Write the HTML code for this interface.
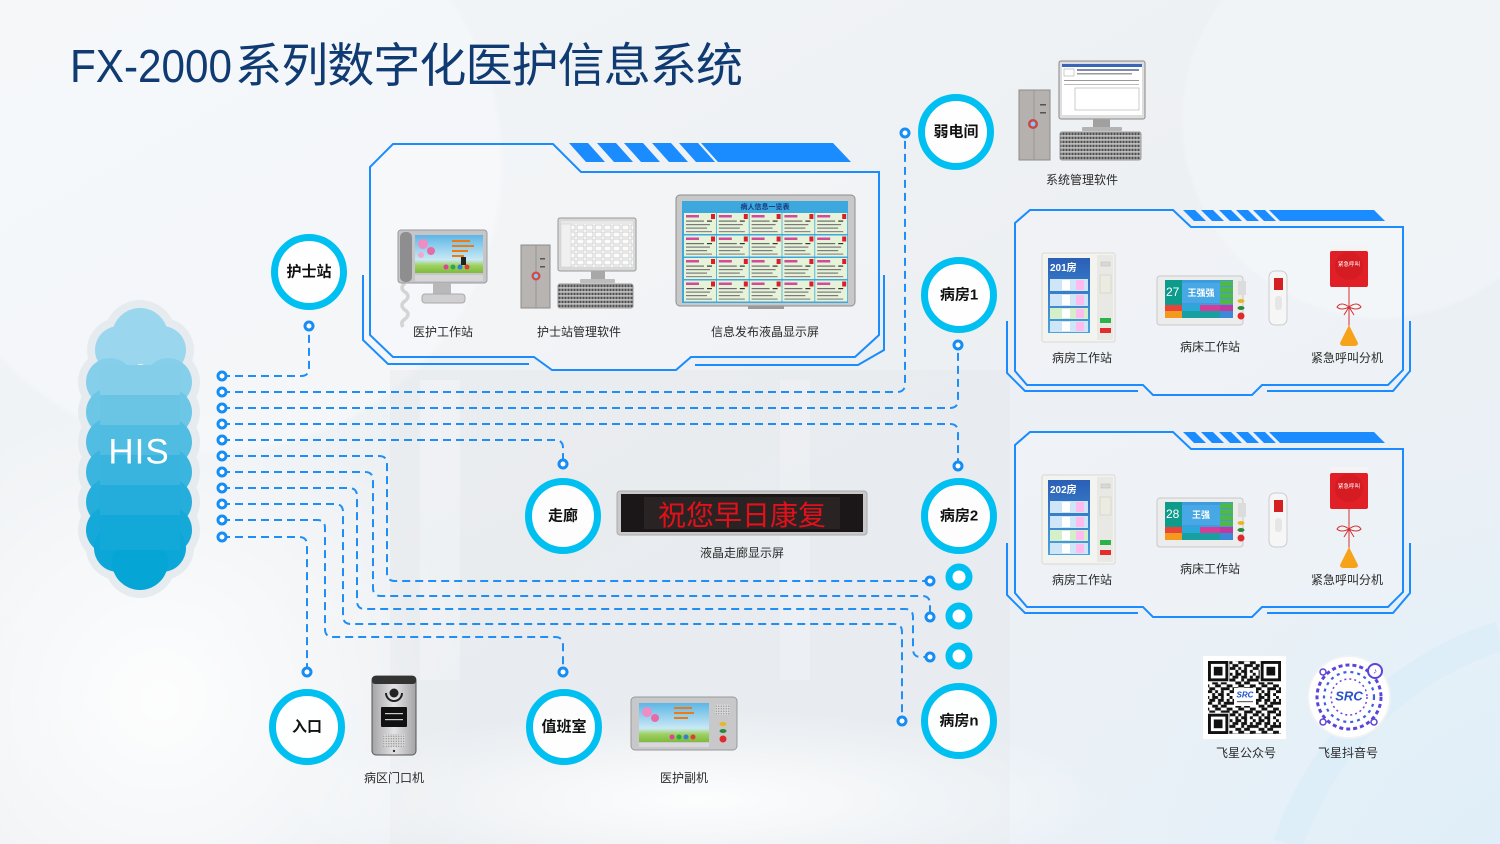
<!DOCTYPE html>
<html><head><meta charset="utf-8">
<style>
html,body{margin:0;padding:0;width:1500px;height:844px;overflow:hidden;}
body{background:#eef2f5;position:relative;}
svg{display:block;position:absolute;left:0;top:0;}
text{font-family:"Liberation Sans","Noto Sans CJK SC",sans-serif;}
.lbl{font-size:12px;fill:#2a2a2a;text-anchor:middle;dominant-baseline:central;}
.rl{font-size:15px;font-weight:bold;fill:#111;text-anchor:middle;dominant-baseline:central;}
.dl{fill:none;stroke:#1f8ef5;stroke-width:2;stroke-dasharray:8 5;}
.fr{fill:#ffffff;fill-opacity:0.18;stroke:#1a8cff;stroke-width:2;}
.br{fill:none;stroke:#1a8cff;stroke-width:2;}
.st{fill:#1a8cff;}
.ring{fill:#ffffff;fill-opacity:0.9;stroke:#00c0f2;stroke-width:7;}
.sring{fill:#ffffff;stroke:#00c0f2;stroke-width:7;}
.pd{fill:#ffffff;stroke:#168cf5;stroke-width:3;}
</style></head><body>
<svg width="1500" height="844" viewBox="0 0 1500 844" xmlns="http://www.w3.org/2000/svg">
<defs>
 <clipPath id="frame"><rect width="1500" height="844"/></clipPath>
 <linearGradient id="bg" x1="0" y1="0" x2="1" y2="1">
  <stop offset="0" stop-color="#f3f6f9"/>
  <stop offset="0.5" stop-color="#edf0f3"/>
  <stop offset="1" stop-color="#e8f1f8"/>
 </linearGradient>
 <radialGradient id="g1" gradientUnits="userSpaceOnUse" cx="215" cy="165" r="290">
  <stop offset="0" stop-color="#f7f9fb" stop-opacity="0.6"/>
  <stop offset="0.98" stop-color="#f7f9fb" stop-opacity="0.6"/>
  <stop offset="1" stop-color="#f7f9fb" stop-opacity="0"/>
 </radialGradient>
 <radialGradient id="g2" gradientUnits="userSpaceOnUse" cx="160" cy="700" r="310">
  <stop offset="0" stop-color="#ffffff" stop-opacity="0.9"/>
  <stop offset="1" stop-color="#ffffff" stop-opacity="0"/>
 </radialGradient>
 <radialGradient id="g3" gradientUnits="userSpaceOnUse" cx="0" cy="0" r="1" gradientTransform="translate(700,800) scale(420,90)">
  <stop offset="0" stop-color="#ffffff" stop-opacity="0.9"/>
  <stop offset="1" stop-color="#ffffff" stop-opacity="0"/>
 </radialGradient>
 <radialGradient id="g4" gradientUnits="userSpaceOnUse" cx="1560" cy="930" r="520">
  <stop offset="0" stop-color="#d9ecf8" stop-opacity="0.9"/>
  <stop offset="1" stop-color="#e3f0f9" stop-opacity="0"/>
 </radialGradient>
 <radialGradient id="g5" gradientUnits="userSpaceOnUse" cx="1380" cy="120" r="200">
  <stop offset="0" stop-color="#f3f7fa" stop-opacity="0.5"/>
  <stop offset="0.98" stop-color="#f3f7fa" stop-opacity="0.5"/>
  <stop offset="1" stop-color="#f3f7fa" stop-opacity="0"/>
 </radialGradient>
 <linearGradient id="sky" x1="0" y1="0" x2="0" y2="1">
  <stop offset="0" stop-color="#5db6e5"/>
  <stop offset="0.65" stop-color="#c9e9f5"/>
  <stop offset="0.8" stop-color="#9fd060"/>
  <stop offset="1" stop-color="#7dbb3e"/>
 </linearGradient>
 <linearGradient id="silver" x1="0" y1="0" x2="1" y2="0">
  <stop offset="0" stop-color="#a4a4a6"/>
  <stop offset="0.5" stop-color="#e4e4e6"/>
  <stop offset="1" stop-color="#a4a4a6"/>
 </linearGradient>
 <linearGradient id="scr" x1="0" y1="0" x2="0" y2="1">
  <stop offset="0" stop-color="#2a5fb6"/>
  <stop offset="1" stop-color="#4aa3e0"/>
 </linearGradient>
 <pattern id="keys" width="3" height="4" patternUnits="userSpaceOnUse">
  <rect width="3" height="4" fill="#cfcfcf"/>
  <rect x="0.4" y="0.6" width="2.2" height="2.6" fill="#4f4f4f"/>
 </pattern>
 <pattern id="grill" width="2.5" height="2.5" patternUnits="userSpaceOnUse">
  <rect width="2.5" height="2.5" fill="#d8d8d8"/>
  <circle cx="1.25" cy="1.25" r="0.6" fill="#888"/>
 </pattern>
 <pattern id="mgrid" width="9" height="7" patternUnits="userSpaceOnUse">
  <rect width="9" height="7" fill="#fbfbfb"/>
  <rect x="1" y="1" width="7" height="5" fill="none" stroke="#b8b8b8" stroke-width="0.6"/>
 </pattern>
 <pattern id="qr" width="23.2" height="23.2" patternUnits="userSpaceOnUse">
  <rect width="23.2" height="23.2" fill="#fff"/>
  <g fill="#111">
   <rect x="0" y="0" width="2.9" height="2.9"/><rect x="5.8" y="0" width="5.8" height="2.9"/><rect x="14.5" y="0" width="2.9" height="2.9"/>
   <rect x="2.9" y="2.9" width="5.8" height="2.9"/><rect x="11.6" y="2.9" width="5.8" height="2.9"/><rect x="20.3" y="2.9" width="2.9" height="2.9"/>
   <rect x="0" y="5.8" width="5.8" height="2.9"/><rect x="11.6" y="5.8" width="2.9" height="2.9"/><rect x="17.4" y="5.8" width="5.8" height="2.9"/>
   <rect x="5.8" y="8.7" width="5.8" height="2.9"/><rect x="14.5" y="8.7" width="5.8" height="2.9"/>
   <rect x="0" y="11.6" width="2.9" height="2.9"/><rect x="8.7" y="11.6" width="5.8" height="2.9"/><rect x="20.3" y="11.6" width="2.9" height="2.9"/>
   <rect x="2.9" y="14.5" width="5.8" height="2.9"/><rect x="14.5" y="14.5" width="8.7" height="2.9"/>
   <rect x="0" y="17.4" width="5.8" height="2.9"/><rect x="8.7" y="17.4" width="2.9" height="2.9"/><rect x="14.5" y="17.4" width="2.9" height="2.9"/>
   <rect x="5.8" y="20.3" width="2.9" height="2.9"/><rect x="11.6" y="20.3" width="5.8" height="2.9"/><rect x="20.3" y="20.3" width="2.9" height="2.9"/>
  </g>
 </pattern>
 <g id="cell">
  <rect width="32" height="21" fill="#e6f3d8"/>
  <rect x="2" y="2" width="13" height="2.5" fill="#d24a9a"/>
  <rect x="27" y="1" width="4" height="5" fill="#e01c24"/>
  <rect x="2" y="7.5" width="18" height="1.2" fill="#6f6f6f"/>
  <rect x="23" y="7.5" width="5" height="1.2" fill="#333"/>
  <rect x="2" y="11" width="24" height="1.2" fill="#7a7a7a"/>
  <rect x="2" y="14.5" width="21" height="1.2" fill="#7a7a7a"/>
  <rect x="2" y="18" width="26" height="1.2" fill="#8a8a8a"/>
 </g>
 <g id="finder">
  <rect x="-1" y="-1" width="22.3" height="22.3" fill="#fff"/>
  <rect width="20.3" height="20.3" fill="#111"/>
  <rect x="2.9" y="2.9" width="14.5" height="14.5" fill="#fff"/>
  <rect x="5.8" y="5.8" width="8.7" height="8.7" fill="#111"/>
 </g>
</defs>

<!-- background (all within frame) -->
<rect width="1500" height="844" fill="url(#bg)"/>
<rect width="1500" height="844" fill="url(#g1)"/>
<rect width="1500" height="844" fill="url(#g2)"/>
<rect x="390" y="370" width="620" height="474" fill="#e3e6e9" opacity="0.35"/>
<rect x="420" y="380" width="40" height="300" fill="#ffffff" opacity="0.25"/>
<rect x="780" y="380" width="30" height="300" fill="#ffffff" opacity="0.2"/>
<rect width="1500" height="844" fill="url(#g3)"/>
<rect width="1500" height="844" fill="url(#g4)"/>
<g clip-path="url(#frame)">
 <path d="M1288,844 A330,330 0 0 1 1500,636" fill="none" stroke="#dcedf8" stroke-width="30" opacity="0.7"/>
</g>
<rect width="1500" height="844" fill="url(#g5)"/>

<!-- title -->
<text x="70" y="82" font-size="46" fill="#0f3a72" textLength="162" lengthAdjust="spacingAndGlyphs">FX-2000</text>
<text x="235" y="82" font-size="47" fill="#0f3a72" textLength="508" lengthAdjust="spacing" style="font-family:'Noto Sans CJK SC',sans-serif;">系列数字化医护信息系统</text>

<!-- HIS cloud -->
<g fill="#e6ebef">
 <circle cx="140" cy="336" r="36"/><circle cx="119" cy="350" r="32"/><circle cx="162" cy="350" r="32"/>
 <circle cx="110" cy="382" r="32"/><circle cx="168" cy="382" r="32"/>
 <circle cx="110" cy="412" r="32"/><circle cx="168" cy="412" r="32"/>
 <circle cx="110" cy="442" r="32"/><circle cx="168" cy="442" r="32"/>
 <circle cx="110" cy="472" r="32"/><circle cx="168" cy="472" r="32"/>
 <circle cx="110" cy="502" r="32"/><circle cx="168" cy="502" r="32"/>
 <circle cx="110" cy="530" r="32"/><circle cx="168" cy="530" r="32"/>
 <circle cx="140" cy="562" r="36"/><circle cx="118" cy="548" r="32"/><circle cx="162" cy="548" r="32"/>
</g>
<g fill="#9ad7ee">
 <circle cx="140" cy="336" r="28"/><circle cx="119" cy="350" r="24"/><circle cx="162" cy="350" r="24"/>
 <circle cx="110" cy="382" r="24" fill="#86cfea"/><circle cx="168" cy="382" r="24" fill="#86cfea"/>
</g>
<g>
 <circle cx="110" cy="412" r="24" fill="#6cc6e6"/><circle cx="168" cy="412" r="24" fill="#6cc6e6"/>
 <circle cx="110" cy="442" r="24" fill="#52bde3"/><circle cx="168" cy="442" r="24" fill="#52bde3"/>
 <circle cx="110" cy="472" r="24" fill="#3ab5df"/><circle cx="168" cy="472" r="24" fill="#3ab5df"/>
 <circle cx="110" cy="502" r="24" fill="#25aedc"/><circle cx="168" cy="502" r="24" fill="#25aedc"/>
 <circle cx="110" cy="530" r="24" fill="#14a9d9"/><circle cx="168" cy="530" r="24" fill="#14a9d9"/>
 <circle cx="118" cy="548" r="24" fill="#0ca7d8"/><circle cx="162" cy="548" r="24" fill="#0ca7d8"/>
 <circle cx="140" cy="562" r="28" fill="#05a5d6"/>
 <rect x="100" y="365" width="80" height="30" fill="#84cee9"/>
 <rect x="100" y="395" width="80" height="30" fill="#6ac5e5"/>
 <rect x="100" y="425" width="80" height="30" fill="#50bce2"/>
 <rect x="100" y="455" width="80" height="30" fill="#39b4de"/>
 <rect x="100" y="485" width="80" height="30" fill="#24adda"/>
 <rect x="100" y="515" width="80" height="35" fill="#12a8d8"/>
</g>
<text x="139" y="452" font-size="35" fill="#ffffff" text-anchor="middle" dominant-baseline="central" letter-spacing="1">HIS</text>

<!-- frames -->
<path class="fr" d="M370,335 V167 L393,144 H553 L581,172 H879 V335 L855,357 H691 L676,370 H552 L534,357 H393 Z"/>
<path class="br" d="M363,275 V340 L388,364 H529"/>
<path class="br" d="M884,275 V350 L858,365 H695"/>
<g class="st">
 <polygon points="569,143 588,143 605,162 586,162"/>
 <polygon points="597,143 616,143 633,162 614,162"/>
 <polygon points="624,143 643,143 660,162 641,162"/>
 <polygon points="652,143 671,143 688,162 669,162"/>
 <polygon points="679,143 698,143 715,162 696,162"/>
 <polygon points="701,143 833,143 851,162 718,162"/>
</g>

<path class="fr" d="M1015,371 V223 L1030,210 H1173 L1191,227 H1403 V370 L1388,385 H1262 L1252,395 H1153 L1143,385 H1027 Z"/>
<path class="br" d="M1007,321 V373 L1025,391 H1138"/>
<path class="br" d="M1410,321 V371 L1393,391 H1267"/>
<g class="st">
 <polygon points="1183,210 1195,210 1206,221 1194,221"/>
 <polygon points="1201,210 1213,210 1224,221 1212,221"/>
 <polygon points="1219,210 1231,210 1242,221 1230,221"/>
 <polygon points="1236,210 1248,210 1259,221 1247,221"/>
 <polygon points="1253,210 1265,210 1276,221 1264,221"/>
 <polygon points="1269,210 1374,210 1385,221 1280,221"/>
</g>

<path class="fr" d="M1015,593 V445 L1030,432 H1173 L1191,449 H1403 V592 L1388,607 H1262 L1252,617 H1153 L1143,607 H1027 Z"/>
<path class="br" d="M1007,543 V595 L1025,613 H1138"/>
<path class="br" d="M1410,543 V593 L1393,613 H1267"/>
<g class="st">
 <polygon points="1183,432 1195,432 1206,443 1194,443"/>
 <polygon points="1201,432 1213,432 1224,443 1212,443"/>
 <polygon points="1219,432 1231,432 1242,443 1230,443"/>
 <polygon points="1236,432 1248,432 1259,443 1247,443"/>
 <polygon points="1253,432 1265,432 1276,443 1264,443"/>
 <polygon points="1269,432 1374,432 1385,443 1280,443"/>
</g>

<!-- dashed connectors -->
<path class="dl" d="M222,376 H301 Q309,376 309,368 V326"/>
<path class="dl" d="M222,392 H897 Q905,392 905,384 V133"/>
<path class="dl" d="M222,408 H950 Q958,408 958,400 V345"/>
<path class="dl" d="M222,424 H950 Q958,424 958,432 V466"/>
<path class="dl" d="M222,440 H555 Q563,440 563,448 V464"/>
<path class="dl" d="M222,456 H379 Q387,456 387,464 V573 Q387,581 395,581 H930"/>
<path class="dl" d="M222,472 H365 Q373,472 373,480 V588 Q373,596 381,596 H922 Q930,596 930,604 V617"/>
<path class="dl" d="M222,488 H349 Q357,488 357,496 V601 Q357,609 365,609 H905 Q913,609 913,617 V649 Q913,657 921,657 H930"/>
<path class="dl" d="M222,504 H335 Q343,504 343,512 V616 Q343,624 351,624 H894 Q902,624 902,632 V721"/>
<path class="dl" d="M222,520 H317 Q325,520 325,528 V629 Q325,637 333,637 H555 Q563,637 563,645 V672"/>
<path class="dl" d="M222,537 H299 Q307,537 307,545 V672"/>

<g>
 <circle class="pd" cx="222" cy="376" r="4"/><circle class="pd" cx="222" cy="392" r="4"/>
 <circle class="pd" cx="222" cy="408" r="4"/><circle class="pd" cx="222" cy="424" r="4"/>
 <circle class="pd" cx="222" cy="440" r="4"/><circle class="pd" cx="222" cy="456" r="4"/>
 <circle class="pd" cx="222" cy="472" r="4"/><circle class="pd" cx="222" cy="488" r="4"/>
 <circle class="pd" cx="222" cy="504" r="4"/><circle class="pd" cx="222" cy="520" r="4"/>
 <circle class="pd" cx="222" cy="537" r="4"/>
 <circle class="pd" cx="309" cy="326" r="4"/><circle class="pd" cx="905" cy="133" r="4"/>
 <circle class="pd" cx="958" cy="345" r="4"/><circle class="pd" cx="958" cy="466" r="4"/>
 <circle class="pd" cx="563" cy="464" r="4"/><circle class="pd" cx="930" cy="581" r="4"/>
 <circle class="pd" cx="930" cy="617" r="4"/><circle class="pd" cx="930" cy="657" r="4"/>
 <circle class="pd" cx="902" cy="721" r="4"/><circle class="pd" cx="563" cy="672" r="4"/>
 <circle class="pd" cx="307" cy="672" r="4"/>
</g>

<!-- rings -->
<circle class="ring" cx="309" cy="272" r="34.5"/><text class="rl" x="309" y="272">护士站</text>
<circle class="ring" cx="956" cy="132" r="34.5"/><text class="rl" x="956" y="132">弱电间</text>
<circle class="ring" cx="959" cy="295" r="34.5"/><text class="rl" x="959" y="295">病房1</text>
<circle class="ring" cx="959" cy="516" r="34.5"/><text class="rl" x="959" y="516">病房2</text>
<circle class="ring" cx="563" cy="516" r="34.5"/><text class="rl" x="563" y="516">走廊</text>
<circle class="ring" cx="959" cy="721" r="34.5"/><text class="rl" x="959" y="721">病房n</text>
<circle class="ring" cx="307" cy="727" r="34.5"/><text class="rl" x="307" y="727">入口</text>
<circle class="ring" cx="564" cy="727" r="34.5"/><text class="rl" x="564" y="727">值班室</text>
<circle class="sring" cx="959" cy="577" r="10"/>
<circle class="sring" cx="959" cy="616" r="10"/>
<circle class="sring" cx="959" cy="656" r="10"/>

<!-- 医护工作站 -->
<g>
 <path d="M405,283 q-6,5 0,9 q6,4 0,9 q-6,4 0,9 q6,4 0,9 q-5,3 -2,8" stroke="#d4d4d4" stroke-width="3.5" fill="none"/>
 <rect x="398" y="230" width="89" height="53" rx="3" fill="#c6c6c8" stroke="#9a9a9c"/>
 <rect x="415" y="235" width="68" height="38" fill="url(#sky)"/>
 <circle cx="423" cy="244" r="5" fill="#ee8cc4"/><circle cx="431" cy="251" r="4" fill="#e86aa8"/><circle cx="421" cy="255" r="3" fill="#f5a6d0"/>
 <rect x="452" y="240" width="18" height="2" fill="#f07a12"/><rect x="452" y="245" width="22" height="2" fill="#f07a12"/>
 <rect x="452" y="250" width="16" height="2" fill="#f07a12"/><rect x="452" y="255" width="12" height="2" fill="#f07a12"/>
 <rect x="461" y="257" width="5" height="8" fill="#222"/>
 <circle cx="446" cy="267" r="2.5" fill="#e0409a"/><circle cx="453" cy="267" r="2.5" fill="#2aa84a"/><circle cx="460" cy="267" r="2.5" fill="#3a7ad8"/><circle cx="467" cy="267" r="2.5" fill="#e03a3a"/>
 <rect x="400" y="232" width="12" height="50" rx="5" fill="#8e8e90"/>
 <rect x="415" y="275" width="68" height="6" fill="#d6d6d8"/>
 <rect x="433" y="283" width="18" height="12" fill="#b8b8ba"/>
 <rect x="422" y="294" width="43" height="9" rx="3" fill="#d0d0d2" stroke="#aaa"/>
</g>
<text class="lbl" x="443" y="332">医护工作站</text>

<!-- 护士站管理软件 -->
<g>
 <rect x="521" y="245" width="29" height="63" fill="#b7b4b2" stroke="#8e8b89"/>
 <line x1="536" y1="245" x2="536" y2="308" stroke="#9a9795"/>
 <rect x="540" y="258" width="5" height="1.5" fill="#555"/><rect x="540" y="266" width="5" height="1.5" fill="#555"/>
 <circle cx="536" cy="276" r="4.5" fill="#d84848"/><circle cx="536" cy="276" r="2.2" fill="#7ccff0"/>
 <rect x="558" y="218" width="78" height="53" rx="2" fill="#d9d9d9" stroke="#999"/>
 <rect x="561" y="221" width="72" height="46" fill="url(#mgrid)"/>
 <rect x="561" y="221" width="72" height="3" fill="#e8e8e8"/>
 <rect x="561" y="224" width="10" height="43" fill="#f0f0f0" stroke="#ccc" stroke-width="0.5"/>
 <rect x="591" y="271" width="14" height="8" fill="#a8a8a8"/>
 <rect x="580" y="279" width="35" height="4" rx="1" fill="#bdbdbd"/>
 <rect x="558" y="284" width="75" height="24" rx="2" fill="url(#keys)" stroke="#999"/>
</g>
<text class="lbl" x="579" y="332">护士站管理软件</text>

<!-- 信息发布液晶显示屏 -->
<g>
 <rect x="676" y="195" width="179" height="111" rx="4" fill="#c8c8c8" stroke="#8d8d8d"/>
 <rect x="682" y="201" width="166" height="102" fill="#3ca8de"/>
 <text x="765" y="207.5" font-size="7" font-weight="bold" fill="#1b3a7a" text-anchor="middle" dominant-baseline="central">病人信息一览表</text>
 <use href="#cell" x="684" y="213"/><use href="#cell" x="716.8" y="213"/><use href="#cell" x="749.6" y="213"/><use href="#cell" x="782.4" y="213"/><use href="#cell" x="815.2" y="213"/>
 <use href="#cell" x="684" y="235.5"/><use href="#cell" x="716.8" y="235.5"/><use href="#cell" x="749.6" y="235.5"/><use href="#cell" x="782.4" y="235.5"/><use href="#cell" x="815.2" y="235.5"/>
 <use href="#cell" x="684" y="258"/><use href="#cell" x="716.8" y="258"/><use href="#cell" x="749.6" y="258"/><use href="#cell" x="782.4" y="258"/><use href="#cell" x="815.2" y="258"/>
 <use href="#cell" x="684" y="280.5"/><use href="#cell" x="716.8" y="280.5"/><use href="#cell" x="749.6" y="280.5"/><use href="#cell" x="782.4" y="280.5"/><use href="#cell" x="815.2" y="280.5"/>
 <rect x="748" y="306" width="36" height="3" fill="#9a9a9a"/>
</g>
<text class="lbl" x="765" y="332">信息发布液晶显示屏</text>

<!-- 系统管理软件 -->
<g>
 <rect x="1019" y="90" width="31" height="70" fill="#b4b1af" stroke="#8e8b89"/>
 <line x1="1034" y1="90" x2="1034" y2="160" stroke="#9a9795"/>
 <rect x="1040" y="104" width="6" height="1.5" fill="#555"/><rect x="1040" y="112" width="6" height="1.5" fill="#555"/>
 <circle cx="1033" cy="124" r="5" fill="#d04444"/><circle cx="1033" cy="124" r="2.5" fill="#7ccff0"/>
 <rect x="1059" y="61" width="86" height="58" rx="2" fill="#dedede" stroke="#888"/>
 <rect x="1062" y="64" width="80" height="51" fill="#ffffff"/>
 <rect x="1062" y="64" width="80" height="3" fill="#3a66b8"/>
 <rect x="1064" y="69" width="10" height="7" fill="none" stroke="#aaa" stroke-width="0.6"/>
 <rect x="1077" y="69" width="62" height="2" fill="#7a8ab0"/><rect x="1077" y="73" width="55" height="1.5" fill="#999"/>
 <rect x="1064" y="80" width="75" height="1" fill="#999"/><rect x="1064" y="84" width="75" height="1" fill="#bbb"/>
 <rect x="1075" y="88" width="64" height="22" fill="none" stroke="#aaa" stroke-width="0.6"/>
 <rect x="1093" y="119" width="17" height="8" fill="#a0a0a0"/>
 <rect x="1082" y="127" width="40" height="4" rx="1" fill="#b3b3b3"/>
 <rect x="1060" y="132" width="81" height="28" rx="2" fill="url(#keys)" stroke="#999"/>
</g>
<text class="lbl" x="1082" y="180">系统管理软件</text>

<!-- Room 1 devices -->
<g>
 <rect x="1042" y="253" width="73" height="89" rx="2" fill="#f3f3f0" stroke="#d8d8d4"/>
 <rect x="1048" y="258" width="42" height="75" fill="url(#scr)"/>
 <text x="1050" y="271" font-size="10" font-weight="bold" fill="#fff">201房</text>
 <rect x="1050" y="279" width="38" height="12" fill="#cfe6f8"/><rect x="1050" y="294" width="38" height="12" fill="#cfe6f8"/>
 <rect x="1050" y="308" width="38" height="11" fill="#d5efc9"/><rect x="1050" y="321" width="38" height="11" fill="#cfe6f8"/>
 <rect x="1062" y="280" width="8" height="10" fill="#fff"/><rect x="1076" y="280" width="8" height="10" fill="#fbe"/>
 <rect x="1062" y="295" width="8" height="10" fill="#fff"/><rect x="1076" y="295" width="8" height="10" fill="#fbe"/>
 <rect x="1062" y="309" width="8" height="9" fill="#fff"/><rect x="1076" y="309" width="8" height="9" fill="#fbe"/>
 <rect x="1062" y="322" width="8" height="9" fill="#fff"/><rect x="1076" y="322" width="8" height="9" fill="#fbe"/>
 <rect x="1097" y="255" width="16" height="85" fill="#e8e8e4"/>
 <rect x="1101" y="262" width="9" height="4" fill="#d8d8d4" stroke="#bbb" stroke-width="0.5"/>
 <rect x="1100" y="275" width="11" height="18" fill="#ebebdf" stroke="#ccc" stroke-width="0.6"/>
 <rect x="1100" y="318" width="11" height="5" fill="#2bb34a"/>
 <rect x="1100" y="328" width="11" height="5" fill="#e32c2c"/>
</g>
<g>
 <rect x="1157" y="276" width="86" height="49" rx="3" fill="#ececec" stroke="#c8c8c8"/>
 <rect x="1165" y="280" width="68" height="38" fill="#3d9be0"/>
 <rect x="1165" y="280" width="17" height="25" fill="#0d9c8c"/>
 <text x="1166" y="296" font-size="12" fill="#fff">27</text>
 <rect x="1182" y="283" width="38" height="20" fill="#48a8e6"/>
 <text x="1201" y="293" font-size="9" font-weight="bold" fill="#fff" text-anchor="middle" dominant-baseline="central">王强强</text>
 <rect x="1220" y="281" width="13" height="5" fill="#4fb848"/><rect x="1220" y="287" width="13" height="5" fill="#4fb848"/>
 <rect x="1220" y="293" width="13" height="5" fill="#4fb848"/><rect x="1220" y="299" width="13" height="5" fill="#4fb848"/>
 <rect x="1165" y="305" width="17" height="6" fill="#e8443a"/><rect x="1182" y="305" width="18" height="6" fill="#2aa8d8"/>
 <rect x="1200" y="305" width="20" height="6" fill="#d63c98"/><rect x="1220" y="305" width="13" height="6" fill="#c03a9a"/>
 <rect x="1165" y="311" width="17" height="7" fill="#f39a1e"/><rect x="1182" y="311" width="38" height="7" fill="#18a0a0"/>
 <rect x="1220" y="311" width="13" height="7" fill="#3a8ad8"/>
 <rect x="1238" y="281" width="8" height="14" fill="#dcdcdc"/>
 <ellipse cx="1241" cy="301" rx="3.5" ry="2" fill="#e8b820"/>
 <ellipse cx="1241" cy="308" rx="3.5" ry="2" fill="#2a8a3a"/>
 <circle cx="1241" cy="316" r="3.5" fill="#e02a2a"/>
 <rect x="1269" y="271" width="18" height="54" rx="6" fill="#f6f6f6" stroke="#ccc"/>
 <rect x="1274" y="278" width="9" height="12" fill="#d42020"/>
 <rect x="1275" y="296" width="7" height="14" rx="3" fill="#e6e6e6"/>
</g>
<g>
 <rect x="1330" y="245" width="38" height="8" fill="#f4f4f4"/>
 <rect x="1330" y="251" width="38" height="36" rx="2" fill="#e11f26"/>
 <circle cx="1349" cy="266" r="14" fill="#d41c22"/>
 <text x="1349" y="265" font-size="5.5" fill="#fff" text-anchor="middle" dominant-baseline="central">紧急呼叫</text>
 <line x1="1349" y1="287" x2="1349" y2="327" stroke="#d43030" stroke-width="1"/>
 <path d="M1349,307 q-8,-6 -12,0 q4,4 12,0 q8,-6 12,0 q-4,4 -12,0 l-5,8 M1349,307 l5,8" stroke="#d43030" stroke-width="1" fill="none"/>
 <path d="M1349,325 L1358,343 Q1358,346 1354,346 L1344,346 Q1340,346 1340,343 Z" fill="#f7a21b"/>
</g>
<text class="lbl" x="1082" y="358">病房工作站</text>
<text class="lbl" x="1210" y="347">病床工作站</text>
<text class="lbl" x="1347" y="358">紧急呼叫分机</text>

<!-- Room 2 devices -->
<g transform="translate(0,222)">
 <rect x="1042" y="253" width="73" height="89" rx="2" fill="#f3f3f0" stroke="#d8d8d4"/>
 <rect x="1048" y="258" width="42" height="75" fill="url(#scr)"/>
 <text x="1050" y="271" font-size="10" font-weight="bold" fill="#fff">202房</text>
 <rect x="1050" y="279" width="38" height="12" fill="#cfe6f8"/><rect x="1050" y="294" width="38" height="12" fill="#cfe6f8"/>
 <rect x="1050" y="308" width="38" height="11" fill="#d5efc9"/><rect x="1050" y="321" width="38" height="11" fill="#cfe6f8"/>
 <rect x="1062" y="280" width="8" height="10" fill="#fff"/><rect x="1076" y="280" width="8" height="10" fill="#fbe"/>
 <rect x="1062" y="295" width="8" height="10" fill="#fff"/><rect x="1076" y="295" width="8" height="10" fill="#fbe"/>
 <rect x="1062" y="309" width="8" height="9" fill="#fff"/><rect x="1076" y="309" width="8" height="9" fill="#fbe"/>
 <rect x="1062" y="322" width="8" height="9" fill="#fff"/><rect x="1076" y="322" width="8" height="9" fill="#fbe"/>
 <rect x="1097" y="255" width="16" height="85" fill="#e8e8e4"/>
 <rect x="1101" y="262" width="9" height="4" fill="#d8d8d4" stroke="#bbb" stroke-width="0.5"/>
 <rect x="1100" y="275" width="11" height="18" fill="#ebebdf" stroke="#ccc" stroke-width="0.6"/>
 <rect x="1100" y="318" width="11" height="5" fill="#2bb34a"/>
 <rect x="1100" y="328" width="11" height="5" fill="#e32c2c"/>

 <rect x="1157" y="276" width="86" height="49" rx="3" fill="#ececec" stroke="#c8c8c8"/>
 <rect x="1165" y="280" width="68" height="38" fill="#3d9be0"/>
 <rect x="1165" y="280" width="17" height="25" fill="#0d9c8c"/>
 <text x="1166" y="296" font-size="12" fill="#fff">28</text>
 <rect x="1182" y="283" width="38" height="20" fill="#48a8e6"/>
 <text x="1201" y="293" font-size="9" font-weight="bold" fill="#fff" text-anchor="middle" dominant-baseline="central">王强</text>
 <rect x="1220" y="281" width="13" height="5" fill="#4fb848"/><rect x="1220" y="287" width="13" height="5" fill="#4fb848"/>
 <rect x="1220" y="293" width="13" height="5" fill="#4fb848"/><rect x="1220" y="299" width="13" height="5" fill="#4fb848"/>
 <rect x="1165" y="305" width="17" height="6" fill="#e8443a"/><rect x="1182" y="305" width="18" height="6" fill="#2aa8d8"/>
 <rect x="1200" y="305" width="20" height="6" fill="#d63c98"/><rect x="1220" y="305" width="13" height="6" fill="#c03a9a"/>
 <rect x="1165" y="311" width="17" height="7" fill="#f39a1e"/><rect x="1182" y="311" width="38" height="7" fill="#18a0a0"/>
 <rect x="1220" y="311" width="13" height="7" fill="#3a8ad8"/>
 <rect x="1238" y="281" width="8" height="14" fill="#dcdcdc"/>
 <ellipse cx="1241" cy="301" rx="3.5" ry="2" fill="#e8b820"/>
 <ellipse cx="1241" cy="308" rx="3.5" ry="2" fill="#2a8a3a"/>
 <circle cx="1241" cy="316" r="3.5" fill="#e02a2a"/>
 <rect x="1269" y="271" width="18" height="54" rx="6" fill="#f6f6f6" stroke="#ccc"/>
 <rect x="1274" y="278" width="9" height="12" fill="#d42020"/>
 <rect x="1275" y="296" width="7" height="14" rx="3" fill="#e6e6e6"/>

 <rect x="1330" y="245" width="38" height="8" fill="#f4f4f4"/>
 <rect x="1330" y="251" width="38" height="36" rx="2" fill="#e11f26"/>
 <circle cx="1349" cy="266" r="14" fill="#d41c22"/>
 <text x="1349" y="265" font-size="5.5" fill="#fff" text-anchor="middle" dominant-baseline="central">紧急呼叫</text>
 <line x1="1349" y1="287" x2="1349" y2="327" stroke="#d43030" stroke-width="1"/>
 <path d="M1349,307 q-8,-6 -12,0 q4,4 12,0 q8,-6 12,0 q-4,4 -12,0 l-5,8 M1349,307 l5,8" stroke="#d43030" stroke-width="1" fill="none"/>
 <path d="M1349,325 L1358,343 Q1358,346 1354,346 L1344,346 Q1340,346 1340,343 Z" fill="#f7a21b"/>
</g>
<text class="lbl" x="1082" y="580">病房工作站</text>
<text class="lbl" x="1210" y="569">病床工作站</text>
<text class="lbl" x="1347" y="580">紧急呼叫分机</text>

<!-- LED corridor display -->
<g>
 <rect x="617" y="491" width="250" height="44" rx="3" fill="#c9c9c9" stroke="#aaa"/>
 <rect x="621" y="494" width="242" height="38" fill="#1b1617"/>
 <rect x="644" y="497" width="196" height="32" fill="#2a2324"/>
 <text x="742" y="514" font-size="28" fill="#e3101a" text-anchor="middle" dominant-baseline="central" style="font-family:'Noto Sans CJK SC',sans-serif;">祝您早日康复</text>
</g>
<text class="lbl" x="742" y="553">液晶走廊显示屏</text>

<!-- 病区门口机 -->
<g>
 <rect x="372" y="676" width="44" height="79" rx="4" fill="url(#silver)" stroke="#555"/>
 <rect x="372" y="676" width="44" height="8" rx="3" fill="#333"/>
 <path d="M386,693 a8,8 0 0 0 16,0" stroke="#222" stroke-width="2" fill="none"/>
 <circle cx="394" cy="693" r="4.5" fill="#222"/>
 <rect x="381" y="707" width="26" height="20" rx="1" fill="#111"/>
 <rect x="385" y="713" width="18" height="1.2" fill="#ccc"/><rect x="385" y="719" width="18" height="1.2" fill="#ccc"/>
 <rect x="383" y="734" width="22" height="13" fill="url(#grill)"/>
 <circle cx="394" cy="751" r="1.2" fill="#333"/>
</g>
<text class="lbl" x="394" y="778">病区门口机</text>

<!-- 医护副机 -->
<g>
 <rect x="631" y="697" width="106" height="53" rx="4" fill="#c8c8ca" stroke="#999"/>
 <rect x="639" y="703" width="70" height="39" fill="url(#sky)"/>
 <circle cx="647" cy="712" r="5" fill="#ee8cc4"/><circle cx="655" cy="718" r="4" fill="#e86aa8"/>
 <rect x="674" y="707" width="18" height="2" fill="#f07a12"/><rect x="674" y="712" width="20" height="2" fill="#f07a12"/><rect x="674" y="717" width="14" height="2" fill="#f07a12"/>
 <circle cx="672" cy="737" r="2.5" fill="#e0409a"/><circle cx="679" cy="737" r="2.5" fill="#2aa84a"/><circle cx="686" cy="737" r="2.5" fill="#3a7ad8"/><circle cx="693" cy="737" r="2.5" fill="#e03a3a"/>
 <rect x="639" y="743" width="70" height="4" fill="#d8d8da"/>
 <rect x="715" y="704" width="15" height="11" rx="3" fill="url(#grill)"/>
 <ellipse cx="723" cy="724" rx="3.5" ry="2" fill="#e8b820"/>
 <ellipse cx="723" cy="731" rx="3.5" ry="2" fill="#2a8a3a"/>
 <circle cx="723" cy="739" r="3.5" fill="#e02a2a"/>
</g>
<text class="lbl" x="684" y="778">医护副机</text>

<!-- QR codes -->
<g>
 <rect x="1203" y="656" width="83" height="83" fill="#ffffff"/>
 <rect x="1208" y="661" width="73" height="73" fill="url(#qr)"/>
 <use href="#finder" x="1208" y="661"/>
 <use href="#finder" x="1260.7" y="661"/>
 <use href="#finder" x="1208" y="713.7"/>
 <rect x="1234" y="688" width="22" height="18" fill="#ffffff"/>
 <text x="1245" y="695" font-size="8" font-weight="bold" font-style="italic" fill="#2050c8" text-anchor="middle" dominant-baseline="central">SRC</text>
 <rect x="1237" y="701" width="16" height="1.2" fill="#666"/>
</g>
<text class="lbl" x="1246" y="753">飞星公众号</text>
<g>
 <circle cx="1349" cy="697" r="42" fill="#f0f2f5"/>
 <circle cx="1349" cy="697" r="40" fill="#ffffff"/>
 <circle cx="1349" cy="697" r="32" fill="none" stroke="#5b45d8" stroke-width="3" stroke-dasharray="4 3"/>
 <circle cx="1349" cy="697" r="25" fill="none" stroke="#3d5fe0" stroke-width="2.2" stroke-dasharray="3 4"/>
 <circle cx="1349" cy="697" r="18" fill="none" stroke="#6a4ae0" stroke-width="1.5" stroke-dasharray="2 3"/>
 <rect x="1333" y="689" width="32" height="14" fill="#fff"/>
 <text x="1349" y="696" font-size="13" font-weight="bold" font-style="italic" fill="#2a52c9" text-anchor="middle" dominant-baseline="central">SRC</text>
 <circle cx="1375" cy="671" r="7" fill="#fff" stroke="#5b45d8" stroke-width="2"/>
 <text x="1375" y="671" font-size="8" fill="#5b45d8" text-anchor="middle" dominant-baseline="central">♪</text>
 <circle cx="1323" cy="722" r="3" fill="none" stroke="#5b45d8" stroke-width="1.5"/>
 <circle cx="1374" cy="722" r="3" fill="none" stroke="#5b45d8" stroke-width="1.5"/>
 <circle cx="1323" cy="672" r="3" fill="none" stroke="#5b45d8" stroke-width="1.5"/>
</g>
<text class="lbl" x="1348" y="753">飞星抖音号</text>
</svg>
</body></html>
